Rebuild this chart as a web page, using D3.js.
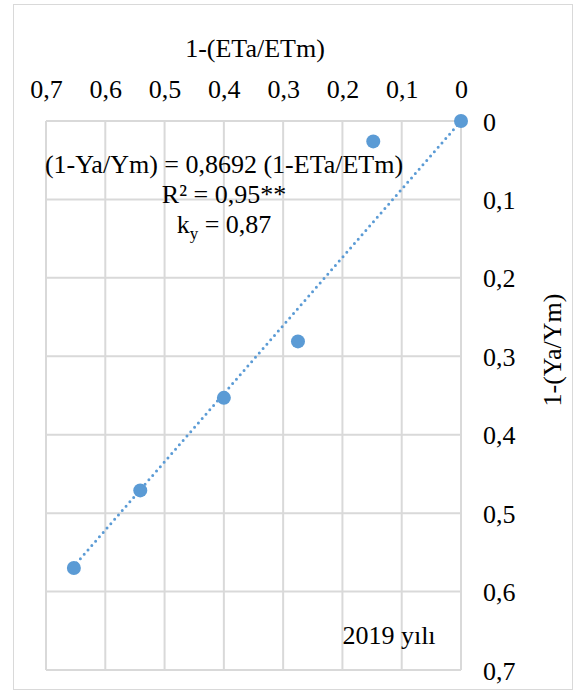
<!DOCTYPE html>
<html>
<head>
<meta charset="utf-8">
<script src="https://cdn.jsdelivr.net/npm/d3@7"></script>
<style>
  body { margin: 0; background: #fff; }
</style>
</head>
<body>
<svg id="chart" width="577" height="696"></svg>
<script>
// 1-(ETa/ETm) vs 1-(Ya/Ym), 2019
const etDeficit = [0, 0.148, 0.275, 0.40, 0.541, 0.653]
const yieldDeficit = [0, 0.026, 0.281, 0.353, 0.471, 0.570]
const slope = 0.8692
const xTicks = [0.7, 0.6, 0.5, 0.4, 0.3, 0.2, 0.1, 0]
const yTicks = [0, 0.1, 0.2, 0.3, 0.4, 0.5, 0.6, 0.7]
const equationLines = ['(1-Ya/Ym) = 0,8692 (1-ETa/ETm)', 'R² = 0,95**']

const blue = '#5b9bd5',
  gridColor = '#d9d9d9',
  fontName = 'Liberation Serif',
  fontSize = 26

const plot = { left: 46, right: 461, top: 121, bottom: 670 }

const svg = d3.select('#chart')

const fmt = d => d === 0 ? '0' : d3.format('.1f')(d).replace('.', ',')

// x is reversed: 0 on the right
const x = d3.scaleLinear()
  .domain([0.7, 0])
  .range([plot.left, plot.right])

const y = d3.scaleLinear()
  .domain([0, 0.7])
  .range([plot.top, plot.bottom])

// chart border
svg.append('rect')
    .attr('x', 13.5)
    .attr('y', 4.5)
    .attr('width', 559)
    .attr('height', 685)
    .style('fill', '#fff')
    .style('stroke', gridColor)
    .style('stroke-width', 1)

// grid
let grid = svg.append('g').attr('class', 'grid')

grid.selectAll('line.vx')
  .data(xTicks)
  .enter().append('line')
    .attr('class', 'vx')
    .attr('x1', d => x(d))
    .attr('x2', d => x(d))
    .attr('y1', plot.top)
    .attr('y2', plot.bottom)
    .style('stroke', gridColor)
    .style('stroke-width', 2)

grid.selectAll('line.hy')
  .data(yTicks)
  .enter().append('line')
    .attr('class', 'hy')
    .attr('x1', plot.left)
    .attr('x2', plot.right)
    .attr('y1', d => y(d))
    .attr('y2', d => y(d))
    .style('stroke', gridColor)
    .style('stroke-width', 2)

// top axis labels
let xAxis = svg.append('g')
    .attr('transform', `translate(0,${ 98 })`)
    .call(d3.axisTop(x).tickValues(xTicks).tickFormat(fmt).tickSize(0).tickPadding(0))

xAxis.select('.domain').remove()
xAxis
    .attr('font-family', fontName)
    .attr('font-size', fontSize)
xAxis.selectAll('text')
    .attr('fill', '#000')
    .attr('dy', 0)

// right axis labels
let yAxis = svg.append('g')
    .attr('transform', `translate(${ 483 },0)`)
    .call(d3.axisRight(y).tickValues(yTicks).tickFormat(fmt).tickSize(0).tickPadding(0))

yAxis.select('.domain').remove()
yAxis
    .attr('font-family', fontName)
    .attr('font-size', fontSize)
yAxis.selectAll('text')
    .attr('fill', '#000')
    .attr('dy', '0.35em')

// axis titles
svg.append('text')
    .attr('x', 255)
    .attr('y', 57)
    .attr('text-anchor', 'middle')
    .attr('font-family', fontName)
    .attr('font-size', fontSize)
    .text('1-(ETa/ETm)')

svg.append('text')
    .attr('transform', `translate(${ 561 },${ 350 }) rotate(-90)`)
    .attr('text-anchor', 'middle')
    .attr('font-family', fontName)
    .attr('font-size', fontSize)
    .text('1-(Ya/Ym)')

// linear trend through origin, dotted
let xMax = d3.max(etDeficit)

svg.append('line')
    .attr('x1', x(0))
    .attr('y1', y(0))
    .attr('x2', x(xMax))
    .attr('y2', y(slope * xMax))
    .style('stroke', blue)
    .style('stroke-width', 3)
    .style('stroke-linecap', 'round')
    .style('stroke-dasharray', '0 5.8')

// points
svg.selectAll('circle.pt')
  .data(etDeficit.map((d, i) => [d, yieldDeficit[i]]))
  .enter().append('circle')
    .attr('class', 'pt')
    .attr('cx', d => x(d[0]))
    .attr('cy', d => y(d[1]))
    .attr('r', 7)
    .style('fill', blue)

// equation box
let eq = svg.append('g')
    .attr('transform', `translate(${ 224 },0)`)
    .attr('font-family', fontName)
    .attr('font-size', fontSize)

eq.selectAll('text.eq')
  .data(equationLines)
  .enter().append('text')
    .attr('class', 'eq')
    .attr('y', (d, i) => 173 + i * 30)
    .attr('text-anchor', 'middle')
    .text(d => d)

let ky = eq.append('text')
    .attr('y', 233)
    .attr('text-anchor', 'middle')

ky.append('tspan').text('k')
ky.append('tspan')
    .attr('dy', 6)
    .attr('font-size', 17)
    .text('y')
ky.append('tspan')
    .attr('dy', -6)
    .text(' = 0,87')

svg.append('text')
    .attr('x', 389)
    .attr('y', 644)
    .attr('text-anchor', 'middle')
    .attr('font-family', fontName)
    .attr('font-size', fontSize)
    .text('2019 yılı')
</script>
</body>
</html>
